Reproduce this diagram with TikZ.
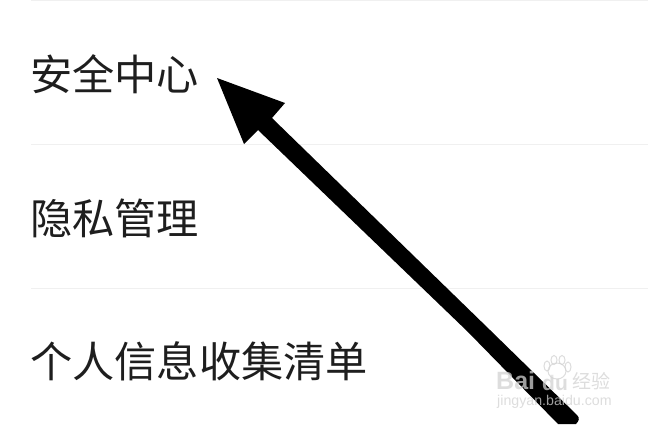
\documentclass[tikz,border=0pt]{standalone}
\usepackage{fontspec}
\setmainfont{Liberation Sans}
\newfontfamily\cjk{Noto Sans CJK SC}
\definecolor{sep}{HTML}{F0F0F0}
\definecolor{ink}{HTML}{1E1E1E}
\definecolor{wm}{HTML}{D2D2D2}
\tikzset{
 menu/.style={anchor=west,inner sep=0pt,text=ink,font=\cjk\fontsize{42.2}{44}\selectfont},
 rule/.style={draw=sep,line width=0.75pt},
 wmark/.style={inner sep=0pt,text=wm},
 paw/.style={draw=wm,line width=1pt,fill=white,fill opacity=0.25}
}
\begin{document}
\begin{tikzpicture}[x=1pt,y=-1pt]
\useasboundingbox (0,0) rectangle (648,424);
\fill[white] (0,0) rectangle (648,424);
\coordinate (r0a) at (31,0); \coordinate (r0b) at (648,0);
\coordinate (r1a) at (31,144.5); \coordinate (r1b) at (648,144.5);
\coordinate (r2a) at (31,288.5); \coordinate (r2b) at (648,288.5);
\draw[rule] (r0a)--(r0b);
\draw[rule] (r1a)--(r1b);
\draw[rule] (r2a)--(r2b);
\node[menu] (a) at (30,74.5) {安全中心};
\node[menu] (b) at (30,218.5) {隐私管理};
\node[menu] (c) at (30,361.5) {个人信息收集清单};
% arrow
\fill[black] (217,78) -- (285,103) -- (272,118) -- (490,330)
  -- (577,415) .. controls (580,418) and (579,421) .. (576,424)
  -- (558,424) -- (467,331) -- (258,130) -- (244,144) -- cycle;
% watermark
\begin{scope}[opacity=0.75]
\node[wmark,anchor=west,font=\bfseries\fontsize{25}{25}\selectfont] (w1) at (496,381) {Bai};
\node[wmark,anchor=west,font=\bfseries\fontsize{21}{21}\selectfont] (w4) at (542,383) {du};
\draw[paw] (557,371) ellipse (9 and 8);
\draw[paw] (547,366) ellipse (3 and 5);
\draw[paw] (554,360) ellipse (3 and 4.5);
\draw[paw] (562,360) ellipse (3 and 4.5);
\draw[paw] (568,367) ellipse (3 and 5);
\node[wmark,anchor=west,font=\cjk\fontsize{19}{19}\selectfont] (w2) at (572,381) {经验};
\node[wmark,anchor=west,font=\fontsize{14.2}{15}\selectfont] (w3) at (497,402) {jingyan.baidu.com};
\end{scope}
\end{tikzpicture}
\end{document}
